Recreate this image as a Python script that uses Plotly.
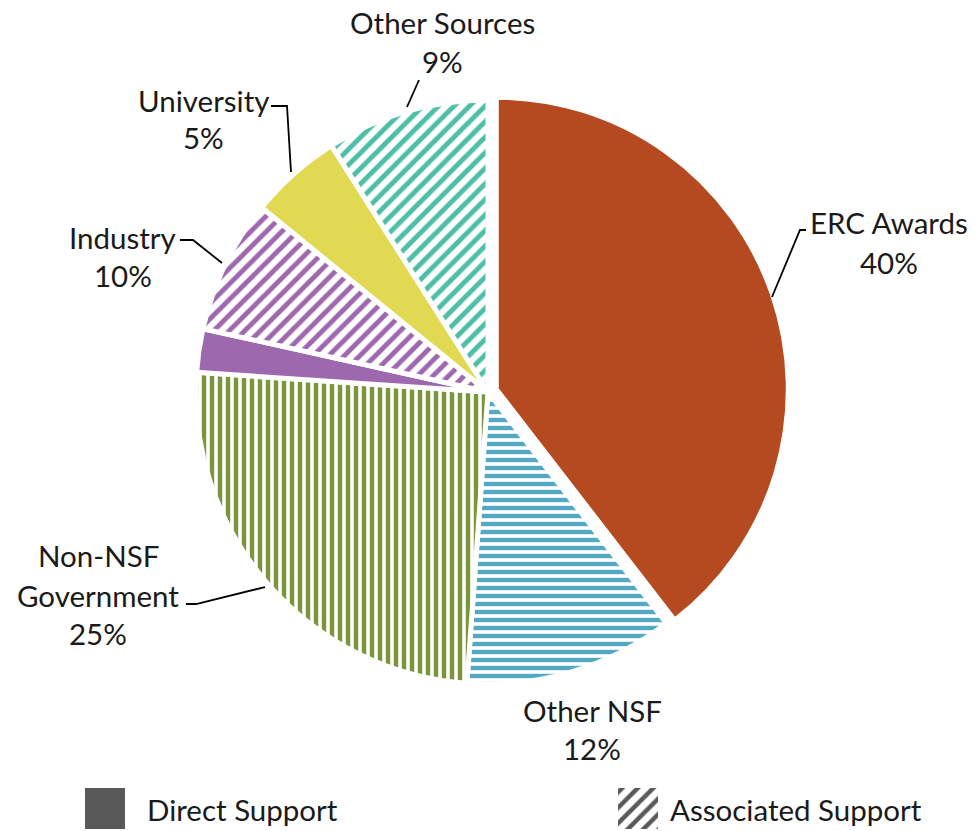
import plotly.graph_objects as go

# slice data, clockwise from 12 o'clock
slices = ["ERC Awards", "Other NSF", "Non-NSF Government", "Industry (Direct)",
          "Industry (Associated)", "University", "Other Sources"]
shares = [39.5, 11.6, 24.9, 2.4, 7.4, 5.1, 9.0]
colores = ["#B54A20", "#53A9C4", "#7B953B", "#9E68AE", "#9E68AE", "#E1D951", "#4CBFA6"]
patrones = ["", "-", "|", "", "/", "", "/"]

# labels as printed on the chart
etiquetas = ["ERC Awards<br>40%", "Other NSF<br>12%", "Non-NSF<br>Government<br>25%",
             "Industry<br>10%", "University<br>5%", "Other Sources<br>9%"]

leyenda = ["Direct Support", "Associated Support"]
leyenda_patron = ["", "/"]

W, H = 975, 831
FONT = "Lato"
FSIZE = 29.5


def px(x):
    return x / W


def py(y):
    return 1 - y / H


# pie placement (pixels)
cx, cy, r, pull = 488, 392, 292, 0.03
half = r * (1 + pull)

fig = go.Figure()

fig.add_trace(go.Pie(
    labels=slices,
    values=shares,
    sort=False,
    direction="clockwise",
    rotation=0,
    textinfo="none",
    hoverinfo="label+percent",
    pull=[pull, 0, 0, 0, 0, 0, 0],
    domain=dict(x=[px(cx - half), px(cx + half)], y=[py(cy + half), py(cy - half)]),
    marker=dict(
        colors=colores,
        line=dict(color="white", width=5),
        pattern=dict(
            shape=patrones,
            fgcolor=colores,
            bgcolor=["white"] * len(colores),
            size=[8, 8, 8, 8, 11, 8, 11],
            solidity=[0.5, 0.55, 0.55, 0.5, 0.45, 0.5, 0.45],
            fillmode="replace",
        ),
    ),
    showlegend=False,
))

# legend swatches
fig.add_trace(go.Bar(
    x=leyenda,
    y=[1, 1],
    width=0.075,
    marker=dict(
        color="#595959",
        line=dict(width=0),
        pattern=dict(shape=leyenda_patron, fgcolor="#595959", bgcolor="white",
                     size=11, solidity=0.4, fillmode="replace"),
    ),
    xaxis="x", yaxis="y",
    showlegend=False,
    hoverinfo="skip",
))

# label positions: center x and y of each line (pixels)
pos = [
    (889, [222, 262]),
    (592, [710, 748]),
    (98, [555, 595, 633]),
    (123, [238, 275]),
    (203, [100, 137]),
    (442, [22, 62]),
]
anots = []
for texto, (x, ys) in zip(etiquetas, pos):
    for linea, y in zip(texto.split("<br>"), ys):
        anots.append(dict(x=px(x), y=py(y), xref="paper", yref="paper", text=linea,
                          showarrow=False, xanchor="center", yanchor="middle",
                          font=dict(family=FONT, size=FSIZE, color="#1a1a1a")))

# legend texts
for texto, x in zip(leyenda, [145, 668]):
    anots.append(dict(x=px(x), y=py(809), xref="paper", yref="paper", text=texto,
                      showarrow=False, xanchor="left", yanchor="middle",
                      font=dict(family=FONT, size=FSIZE, color="#1a1a1a")))

# leader lines
guias = [
    [(772, 297), (800, 230), (806, 230)],
    [(186, 604), (196, 604), (265, 587)],
    [(180, 240), (193, 240), (222, 263)],
    [(271, 106), (287, 106), (291, 172)],
    [(407, 107), (419, 80)],
]
formas = []
for g in guias:
    path = "M " + " L ".join(f"{px(x):.5f},{py(y):.5f}" for x, y in g)
    formas.append(dict(type="path", path=path, xref="paper", yref="paper",
                       line=dict(color="black", width=1.8)))

fig.update_layout(
    width=W, height=H,
    margin=dict(l=0, r=0, t=0, b=0),
    paper_bgcolor="white",
    plot_bgcolor="rgba(0,0,0,0)",
    annotations=anots,
    shapes=formas,
    xaxis=dict(domain=[0, 1], range=[-0.197, 1.632], visible=False, fixedrange=True),
    yaxis=dict(domain=[py(829), py(788)], range=[0, 1], visible=False, fixedrange=True),
    bargap=0,
)

# the page body has a default 8px margin; remove it so the figure fills the window
fig.write_html("out.html", config={"displayModeBar": False},
               post_script="document.body.style.margin='0';")
